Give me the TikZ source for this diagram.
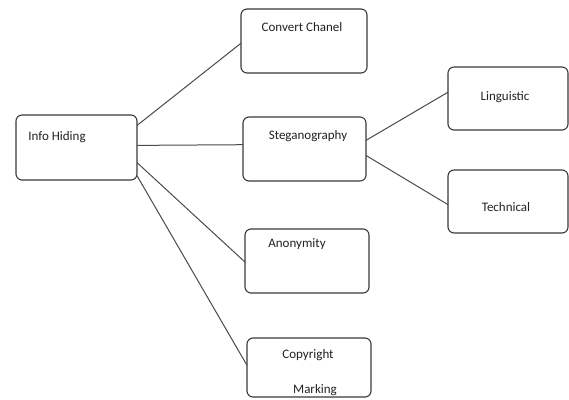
\documentclass[tikz,border=0pt]{standalone}
\usepackage{fontspec}
\setmainfont{Carlito}
\definecolor{boxc}{HTML}{3A3A3A}
\definecolor{linec}{HTML}{4A4A4A}
\definecolor{txtc}{HTML}{222222}
\begin{document}
\begin{tikzpicture}[x=1pt,y=-1pt,
  box/.style={draw=boxc, line width=1.1pt, rounded corners=6pt, rectangle, inner sep=0pt, outer sep=0pt},
  lbl/.style={anchor=base, inner sep=0pt, text=txtc, font=\fontsize{13}{15}\selectfont},
  conn/.style={draw=linec, line width=1pt}]
\useasboundingbox (0,0) rectangle (569,399);
\fill[white] (0,0) rectangle (569,399);
% boxes
\node[box, minimum width=121pt, minimum height=65pt] (info) at (76.5,147.5) {};
\node[box, minimum width=126pt, minimum height=64pt] (conv) at (304,41) {};
\node[box, minimum width=123pt, minimum height=64pt] (steg) at (304.5,149) {};
\node[box, minimum width=120pt, minimum height=63pt] (ling) at (508,98.5) {};
\node[box, minimum width=120pt, minimum height=63pt] (tech) at (508,201.5) {};
\node[box, minimum width=124pt, minimum height=64pt] (anon) at (307,261) {};
\node[box, minimum width=124pt, minimum height=59pt] (copy) at (309,367.5) {};
% texts
\node[lbl] (tinfo) at (57,140) {Info Hiding};
\node[lbl] (tconv) at (302,31) {Convert Chanel};
\node[lbl] (tsteg) at (308,139) {Steganography};
\node[lbl] (tling) at (505,100) {Linguistic};
\node[lbl] (ttech) at (506,211) {Technical};
\node[lbl] (tanon) at (297,247) {Anonymity};
\node[lbl] (tcopy) at (308,358) {Copyright};
\node[lbl] (tmark) at (315,393) {Marking};
% connectors
\draw[conn] (info.20) -- (conv.182);
\draw[conn] (info.2) -- (steg.176);
\draw[conn] (info.-14) -- (anon.181);
\draw[conn] (info.-25) -- (copy.178);
\draw[conn] (steg.8) -- (ling.174);
\draw[conn] (steg.-6) -- (tech.183);
\end{tikzpicture}
\end{document}
